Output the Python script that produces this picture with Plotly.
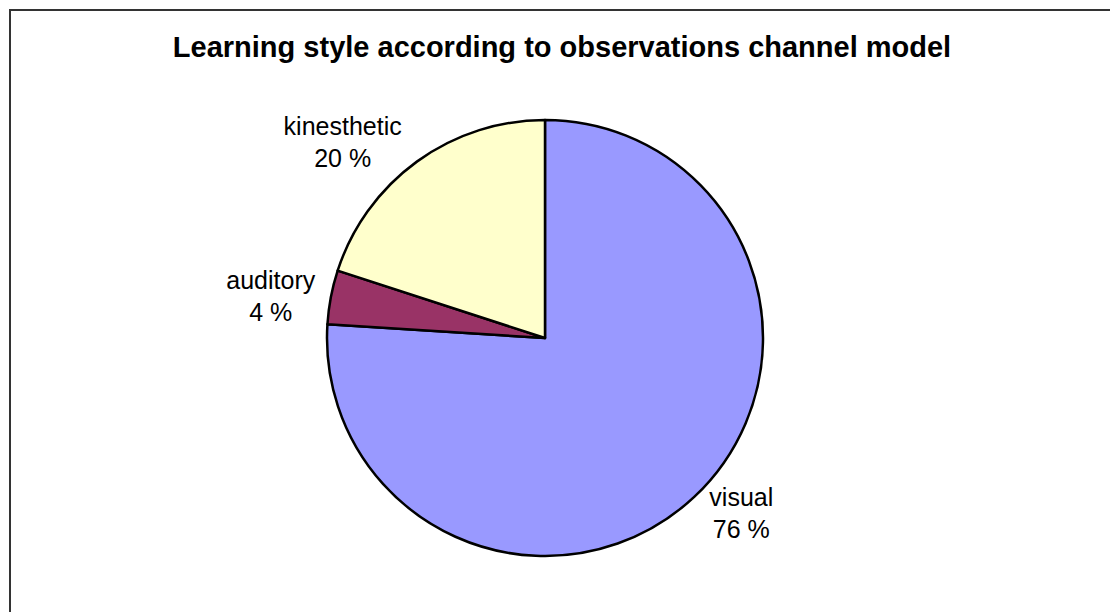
import plotly.graph_objects as go

# Learning style shares (per cent), in drawing order
styles = ["visual", "auditory", "kinesthetic"]
shares = [76, 4, 20]
slice_colors = ["#9999FF", "#993366", "#FFFFCC"]

title_text = "Learning style according to observations channel model"
font_family = "Liberation Sans, Arial, sans-serif"

W, H = 1110, 612

# Pie placement: centre (545, 338) px, radius 218 px
cx, cy, r = 545, 338, 218

fig = go.Figure(
    go.Pie(
        labels=styles,
        values=shares,
        sort=False,
        direction="clockwise",
        rotation=0,
        marker=dict(colors=slice_colors, line=dict(color="#000000", width=2.5)),
        texttemplate="%{label}<br>%{value} %",
        textposition="outside",
        outsidetextfont=dict(family=font_family, size=25, color="#000000"),
        hoverinfo="label+value",
        showlegend=False,
        domain=dict(
            x=[(cx - r) / W, (cx + r) / W],
            y=[1 - (cy + r) / H, 1 - (cy - r) / H],
        ),
    )
)

# Chart-area frame
fig.add_shape(
    type="rect", xref="paper", yref="paper",
    x0=10 / W, x1=1.02, y0=-0.02, y1=1 - 10 / H,
    line=dict(color="#333333", width=2),
    fillcolor="rgba(0,0,0,0)",
)

fig.update_layout(
    width=W,
    height=H,
    margin=dict(l=0, r=0, t=0, b=0),
    paper_bgcolor="#FFFFFF",
    plot_bgcolor="#FFFFFF",
    title=dict(
        text=f"<b>{title_text}</b>",
        x=562 / W, xanchor="center",
        y=1 - 47 / H, yanchor="middle",
        font=dict(family=font_family, size=29, color="#000000"),
    ),
)

fig.write_html("out.html")
